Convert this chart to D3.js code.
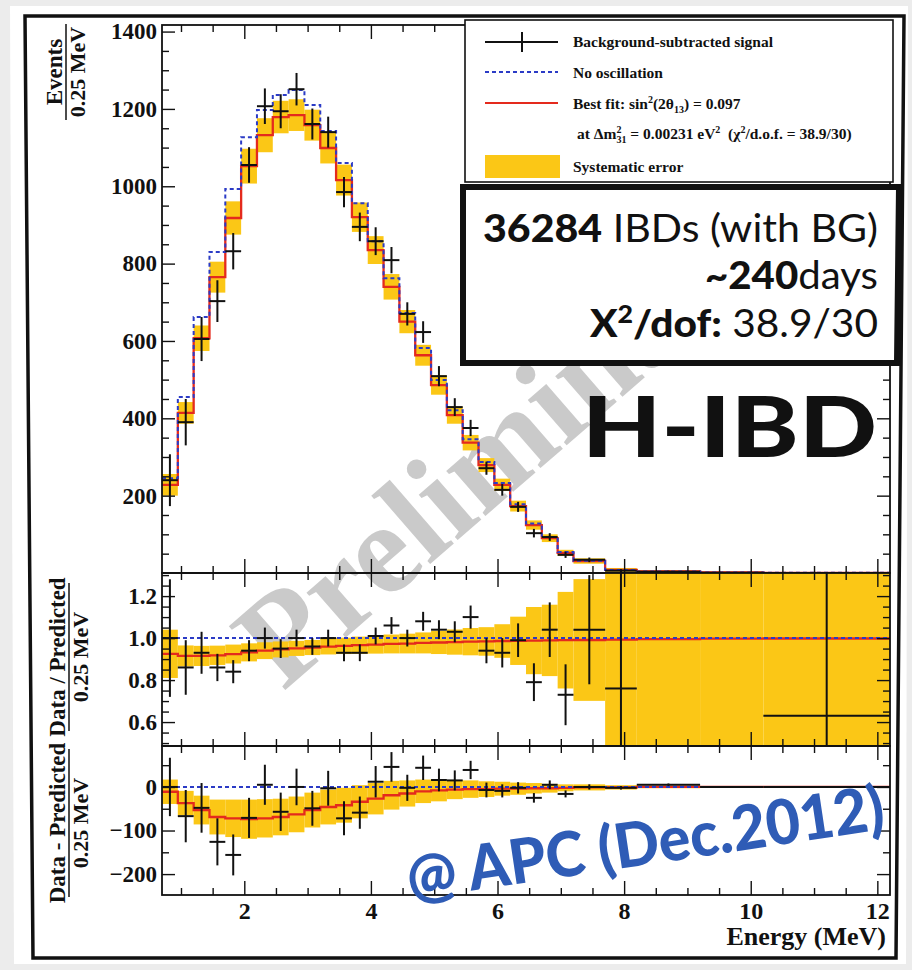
<!DOCTYPE html>
<html>
<head>
<meta charset="utf-8">
<script src="https://cdn.jsdelivr.net/npm/d3@7"></script>
<style>
  html, body { margin: 0; padding: 0; background: #fff; }
  svg { display: block; }
  text { white-space: pre; }
</style>
</head>
<body>
<svg id="chart" width="912" height="970"></svg>
<script>
// ---- Binning (prompt energy, MeV): 26 bins of 0.25 MeV, then wider bins ----
const binEdges = [0.7, 0.95, 1.2, 1.45, 1.7, 1.95, 2.2, 2.45, 2.7, 2.95, 3.2, 3.45, 3.7,
  3.95, 4.2, 4.45, 4.7, 4.95, 5.2, 5.45, 5.7, 5.95, 6.2, 6.45, 6.7, 6.95, 7.2, 7.7, 8.2,
  9.2, 10.2, 12.2];

// ---- Top panel: events / 0.25 MeV ----
const dataEvents = [240, 390, 605, 703, 832, 1055, 1207, 1194, 1251, 1161, 1140, 985, 895,
  858, 809, 670, 623, 509, 429, 375, 271, 215, 171, 103, 93, 47, 34, 6, 3, 0.5, 0.3];
const dataErr = [67, 60, 57, 54, 47, 46, 46, 44, 42, 40, 40, 39, 37, 36, 34, 30, 28, 26,
  23, 21, 17, 15, 13, 11, 10, 8, 6, 4, 3, 2, 1];
const noOscillation = [245, 455, 662, 830, 993, 1127, 1197, 1236, 1249, 1210, 1143, 1060,
  956, 858, 762, 672, 582, 499, 421, 346, 287, 233, 178, 128, 93, 54, 32, 8, 4, 1.5, 0.5];
const bestFit = [228, 414, 607, 765, 918, 1052, 1132, 1179, 1184, 1158, 1099, 1016, 920,
  835, 740, 650, 563, 486, 408, 337, 279, 228, 173, 124, 90, 52, 31, 8, 4, 1.5, 0.5];
const systEvents = [28, 28, 33, 40, 43, 45, 44, 42, 41, 40, 40, 40, 38, 36, 33, 30, 27,
  25, 22, 20, 18, 16, 14, 12, 10, 8, 7, 5, 3, 2, 1];

// ---- Middle panel: data / predicted ----
const ratioData = [1.00, 0.86, 0.93, 0.86, 0.84, 0.94, 1.00, 0.95, 1.00, 0.96, 1.00, 0.93,
  0.93, 1.01, 1.06, 1.00, 1.08, 1.04, 1.03, 1.10, 0.94, 0.93, 0.99, 0.79, 1.04, 0.73, 1.04,
  0.76, null, null, 0.63];
const ratioErr = [0.28, 0.13, 0.10, 0.065, 0.055, 0.05, 0.05, 0.045, 0.04, 0.04, 0.04, 0.04,
  0.04, 0.04, 0.04, 0.04, 0.045, 0.045, 0.05, 0.055, 0.06, 0.07, 0.08, 0.09, 0.13, 0.145,
  0.26, 1.5, null, null, 1.5];
const ratioFit = [0.925, 0.915, 0.915, 0.918, 0.924, 0.932, 0.94, 0.946, 0.951, 0.955,
  0.959, 0.963, 0.966, 0.969, 0.972, 0.974, 0.977, 0.979, 0.981, 0.983, 0.984, 0.986, 0.987,
  0.988, 0.989, 0.99, 0.991, 0.993, 0.995, 0.997, 0.998];
const ratioSyst = [0.115, 0.05, 0.048, 0.046, 0.045, 0.043, 0.04, 0.038, 0.036, 0.036,
  0.037, 0.039, 0.041, 0.043, 0.045, 0.047, 0.05, 0.055, 0.06, 0.065, 0.068, 0.08, 0.115,
  0.16, 0.17, 0.23, 0.29, 1.2, 1.2, 1.2, 1.2];

// ---- Bottom panel: data - predicted ----
const diffData = [0, -67, -48, -126, -156, -71, 5, -57, 0, -49, -3, -72, -59, 12, 46, -2,
  44, 16, 15, 39, -7, -9, -2, -25, 5, -16, 0, -2, 5, 0, 0];
const diffFit = [-11, -37, -53, -69, -72, -74, -72, -69, -63, -53, -46, -42, -34, -27, -19,
  -15, -10, -8, -6, -5, -5, -4, -4, -3, -3, -2, -1, -1, 0, 0, 0];

// ---- Axis ticks ----
const xMajor = [2, 4, 6, 8, 10, 12];
const xMinor = d3.range(1, 12.01, 0.5).filter(v => v % 2 !== 0);
const topMajor = [200, 400, 600, 800, 1000, 1200, 1400];
const topMinor = d3.range(50, 1401, 50).filter(v => v % 200 !== 0);
const ratMajor = [0.6, 0.8, 1.0, 1.2];
const ratMinor = d3.range(0.5, 1.31, 0.05).filter(v => Math.abs(v * 5 - Math.round(v * 5)) > 1e-6);
const difMajor = [-200, -100, 0];
const difMinor = [-150, -50, 50];

const COL_YELLOW = "#fbc716";
const COL_RED = "#e42a1d";
const COL_BLUE = "#2b3bc6";
const SERIF = "'Liberation Serif', 'Times New Roman', serif";
const SANS = "Lato, 'Open Sans', sans-serif";

const svg = d3.select("#chart");

// page background and outer frame
svg.append("rect").attr("width", 912).attr("height", 970).attr("fill", "#ececec");
svg.append("path").attr("d", "M10,6 L908,6 L906,964 L14,964 Z").attr("fill", "#fff");
svg.append("path").attr("d", "M25,16 L904,16 L896,958 L33,958 Z")
  .attr("fill", "none").attr("stroke", "#111").attr("stroke-width", 3.5);

const X0 = 162, X1 = 890;
const x = d3.scaleLinear().domain([0.7, 12.2]).range([X0, X1]);
const yTop = d3.scaleLinear().domain([0, 1417]).range([573, 25]);
const yRat = d3.scaleLinear().domain([0.486, 1.31]).range([746, 573]);
const yDif = d3.scaleLinear().domain([-248, 94]).range([895, 746]);

const bins = d3.range(dataEvents.length).map(i => ({
  i, lo: binEdges[i], hi: binEdges[i + 1], mid: (binEdges[i] + binEdges[i + 1]) / 2
}));

// watermark
svg.append("text")
  .attr("transform", "translate(283,692) rotate(-41)")
  .attr("font-family", SERIF).attr("font-weight", "bold").attr("font-size", 130)
  .attr("fill", "#bdbdbd").attr("fill-opacity", 0.8)
  .text("Preliminary");

function styleAxis(g, labelSize) {
  g.select(".domain").remove();
  g.selectAll(".tick line").attr("stroke", "#111").attr("stroke-width", 1.4);
  g.selectAll(".tick text").attr("font-family", SERIF).attr("font-weight", "bold")
    .attr("font-size", labelSize).attr("fill", "#111");
  g.attr("font-family", null).attr("font-size", null);
}

function frame(y, top, bottom, yMaj, yMin, fmt, showX) {
  const g = svg.append("g");
  // x ticks bottom / top
  styleAxis(g.append("g").attr("transform", `translate(0,${bottom})`)
    .call(d3.axisBottom(x).tickValues(xMajor).tickSize(-14).tickSizeOuter(0)
      .tickPadding(7).tickFormat(showX ? d3.format("d") : "")), 24);
  styleAxis(g.append("g").attr("transform", `translate(0,${bottom})`)
    .call(d3.axisBottom(x).tickValues(xMinor).tickSize(-7).tickSizeOuter(0).tickFormat("")), 24);
  styleAxis(g.append("g").attr("transform", `translate(0,${top})`)
    .call(d3.axisTop(x).tickValues(xMajor).tickSize(-14).tickSizeOuter(0).tickFormat("")), 24);
  styleAxis(g.append("g").attr("transform", `translate(0,${top})`)
    .call(d3.axisTop(x).tickValues(xMinor).tickSize(-7).tickSizeOuter(0).tickFormat("")), 24);
  // y ticks left / right
  styleAxis(g.append("g").attr("transform", `translate(${X0},0)`)
    .call(d3.axisLeft(y).tickValues(yMaj).tickSize(-13).tickSizeOuter(0)
      .tickPadding(5).tickFormat(fmt)), 23);
  styleAxis(g.append("g").attr("transform", `translate(${X0},0)`)
    .call(d3.axisLeft(y).tickValues(yMin).tickSize(-7).tickSizeOuter(0).tickFormat("")), 23);
  styleAxis(g.append("g").attr("transform", `translate(${X1},0)`)
    .call(d3.axisRight(y).tickValues(yMaj).tickSize(-13).tickSizeOuter(0).tickFormat("")), 23);
  styleAxis(g.append("g").attr("transform", `translate(${X1},0)`)
    .call(d3.axisRight(y).tickValues(yMin).tickSize(-7).tickSizeOuter(0).tickFormat("")), 23);
  g.append("rect").attr("x", X0).attr("y", top).attr("width", X1 - X0)
    .attr("height", bottom - top).attr("fill", "none").attr("stroke", "#111").attr("stroke-width", 1.8);
}

function clipFor(id, top, bottom) {
  svg.append("clipPath").attr("id", id).append("rect")
    .attr("x", X0).attr("y", top).attr("width", X1 - X0).attr("height", bottom - top);
  return svg.append("g").attr("clip-path", `url(#${id})`);
}

function stepPath(y, values) {
  const pts = bins.map(b => [x(b.lo), y(values[b.i])]);
  pts.push([x(binEdges[binEdges.length - 1]), y(values[values.length - 1])]);
  return d3.line().curve(d3.curveStepAfter)(pts);
}

function band(g, y, center, half) {
  g.selectAll(null).data(bins).enter().append("rect")
    .attr("x", b => x(b.lo)).attr("width", b => x(b.hi) - x(b.lo))
    .attr("y", b => y(center[b.i] + half[b.i]))
    .attr("height", b => y(center[b.i] - half[b.i]) - y(center[b.i] + half[b.i]))
    .attr("fill", COL_YELLOW);
}

function crosses(g, y, vals, errs) {
  const pts = bins.filter(b => vals[b.i] !== null);
  g.selectAll(null).data(pts).enter().append("line")
    .attr("x1", b => x(b.lo)).attr("x2", b => x(b.hi))
    .attr("y1", b => y(vals[b.i])).attr("y2", b => y(vals[b.i]))
    .attr("stroke", "#111").attr("stroke-width", 2);
  g.selectAll(null).data(pts).enter().append("line")
    .attr("x1", b => x(b.mid)).attr("x2", b => x(b.mid))
    .attr("y1", b => y(vals[b.i] - errs[b.i])).attr("y2", b => y(vals[b.i] + errs[b.i]))
    .attr("stroke", "#111").attr("stroke-width", 2);
}

// ---- top panel ----
const gTop = clipFor("clipTop", 25, 573);
band(gTop, yTop, bestFit, systEvents);
gTop.append("path").attr("d", stepPath(yTop, bestFit)).attr("fill", "none")
  .attr("stroke", COL_RED).attr("stroke-width", 2.3);
gTop.append("path").attr("d", stepPath(yTop, noOscillation)).attr("fill", "none")
  .attr("stroke", COL_BLUE).attr("stroke-width", 2).attr("stroke-dasharray", "4,3");
crosses(gTop, yTop, dataEvents, dataErr);
frame(yTop, 25, 573, topMajor, topMinor, d3.format("d"), false);

// ---- ratio panel ----
const gRat = clipFor("clipRat", 573, 746);
band(gRat, yRat, ratioFit, ratioSyst);
gRat.append("path").attr("d", stepPath(yRat, ratioFit)).attr("fill", "none")
  .attr("stroke", COL_RED).attr("stroke-width", 2.3);
gRat.append("line").attr("x1", X0).attr("x2", X1).attr("y1", yRat(1)).attr("y2", yRat(1))
  .attr("stroke", COL_BLUE).attr("stroke-width", 2).attr("stroke-dasharray", "4,3");
crosses(gRat, yRat, ratioData, ratioErr);
frame(yRat, 573, 746, ratMajor, ratMinor, d3.format(".1f"), false);

// ---- difference panel ----
const gDif = clipFor("clipDif", 746, 895);
band(gDif, yDif, diffFit, systEvents);
gDif.append("path").attr("d", stepPath(yDif, diffFit)).attr("fill", "none")
  .attr("stroke", COL_RED).attr("stroke-width", 2.3);
gDif.append("line").attr("x1", X0).attr("x2", X1).attr("y1", yDif(0)).attr("y2", yDif(0))
  .attr("stroke", COL_BLUE).attr("stroke-width", 2).attr("stroke-dasharray", "4,3");
crosses(gDif, yDif, diffData, dataErr);
frame(yDif, 746, 895, difMajor, difMinor, d3.format("d"), true);

// ---- axis titles ----
function fracTitle(cx, cy, num, den, half) {
  const g = svg.append("g").attr("transform", `translate(${cx},${cy}) rotate(-90)`)
    .attr("font-family", SERIF).attr("font-weight", "bold").attr("fill", "#111")
    .attr("text-anchor", "middle");
  g.append("text").attr("x", 0).attr("y", -3).attr("font-size", 23).text(num);
  g.append("line").attr("x1", -half).attr("x2", half).attr("y1", 1).attr("y2", 1)
    .attr("stroke", "#111").attr("stroke-width", 1.5);
  g.append("text").attr("x", 0).attr("y", 20).attr("font-size", 22).text(den);
}
fracTitle(65, 72, "Events", "0.25 MeV", 48);
fracTitle(68, 657, "Data / Predicted", "0.25 MeV", 74);
fracTitle(68, 823, "Data - Predicted", "0.25 MeV", 74);

svg.append("text").attr("x", 886).attr("y", 945).attr("text-anchor", "end")
  .attr("font-family", SERIF).attr("font-weight", "bold").attr("font-size", 26)
  .attr("fill", "#111").text("Energy (MeV)");

// ---- legend ----
const lg = svg.append("g").attr("font-family", SERIF).attr("font-weight", "bold")
  .attr("font-size", 15.5).attr("fill", "#111");
lg.append("rect").attr("x", 465).attr("y", 20).attr("width", 428).attr("height", 162)
  .attr("fill", "#fff").attr("stroke", "#111").attr("stroke-width", 1.6);
lg.append("line").attr("x1", 485).attr("x2", 558).attr("y1", 42).attr("y2", 42)
  .attr("stroke", "#111").attr("stroke-width", 2);
lg.append("line").attr("x1", 522).attr("x2", 522).attr("y1", 32).attr("y2", 52)
  .attr("stroke", "#111").attr("stroke-width", 2);
lg.append("line").attr("x1", 485).attr("x2", 558).attr("y1", 72).attr("y2", 72)
  .attr("stroke", COL_BLUE).attr("stroke-width", 2).attr("stroke-dasharray", "4,3");
lg.append("line").attr("x1", 485).attr("x2", 558).attr("y1", 103).attr("y2", 103)
  .attr("stroke", COL_RED).attr("stroke-width", 2);
lg.append("rect").attr("x", 485).attr("y", 155).attr("width", 75).attr("height", 23)
  .attr("fill", COL_YELLOW);
lg.append("text").attr("x", 573).attr("y", 47).text("Background-subtracted signal");
lg.append("text").attr("x", 573).attr("y", 78).text("No oscillation");
const t3 = lg.append("text").attr("x", 573).attr("y", 109);
t3.append("tspan").text("Best fit: sin");
t3.append("tspan").attr("dy", -6).attr("font-size", 10).text("2");
t3.append("tspan").attr("dy", 6).text("(2θ");
t3.append("tspan").attr("dy", 4).attr("font-size", 10).text("13");
t3.append("tspan").attr("dy", -4).text(") = 0.097");
const t4 = lg.append("text").attr("x", 577).attr("y", 139);
t4.append("tspan").text("at Δm");
t4.append("tspan").attr("dy", -6).attr("font-size", 10).text("2");
t4.append("tspan").attr("dx", -5).attr("dy", 10).attr("font-size", 10).text("31");
t4.append("tspan").attr("dy", -4).text(" = 0.00231 eV");
t4.append("tspan").attr("dy", -6).attr("font-size", 10).text("2");
t4.append("tspan").attr("dy", 6).text("  (χ");
t4.append("tspan").attr("dy", -6).attr("font-size", 10).text("2");
t4.append("tspan").attr("dy", 6).text("/d.o.f. = 38.9/30)");
lg.append("text").attr("x", 573).attr("y", 172).text("Systematic error");

// ---- statistics box ----
svg.append("path").attr("d", "M463,187 L899,187 L897,363 L463,363 Z")
  .attr("fill", "#fff").attr("stroke", "#111").attr("stroke-width", 6);
const sb = svg.append("g").attr("font-family", SANS).attr("fill", "#111")
  .attr("text-anchor", "end").attr("font-size", 38);
const s1 = sb.append("text").attr("x", 878).attr("y", 242)
  .attr("textLength", 395).attr("lengthAdjust", "spacingAndGlyphs");
s1.append("tspan").attr("font-weight", 900).text("36284");
s1.append("tspan").attr("font-weight", 400).text(" IBDs (with BG)");
const s2 = sb.append("text").attr("x", 878).attr("y", 289)
  .attr("textLength", 173).attr("lengthAdjust", "spacingAndGlyphs");
s2.append("tspan").attr("font-weight", 900).text("~240");
s2.append("tspan").attr("font-weight", 400).text("days");
const s3 = sb.append("text").attr("x", 878).attr("y", 337)
  .attr("textLength", 288).attr("lengthAdjust", "spacingAndGlyphs");
s3.append("tspan").attr("font-weight", 900).text("X");
s3.append("tspan").attr("font-weight", 900).attr("font-size", 25).attr("dy", -14).text("2");
s3.append("tspan").attr("font-weight", 900).attr("dy", 14).text("/dof:");
s3.append("tspan").attr("font-weight", 400).text(" 38.9/30");

svg.append("text").attr("x", 877).attr("y", 457).attr("text-anchor", "end")
  .attr("font-family", SANS).attr("font-weight", 900).attr("font-size", 84)
  .attr("textLength", 295).attr("lengthAdjust", "spacingAndGlyphs")
  .attr("fill", "#111").text("H-IBD");

// ---- seminar tag ----
svg.append("text").attr("transform", "translate(410,900) rotate(-8.5)")
  .attr("font-family", SANS).attr("font-weight", 900).attr("font-size", 62)
  .attr("textLength", 482).attr("lengthAdjust", "spacingAndGlyphs")
  .attr("fill", "#2f5cb6").text("@ APC (Dec.2012)");
</script>
</body>
</html>
